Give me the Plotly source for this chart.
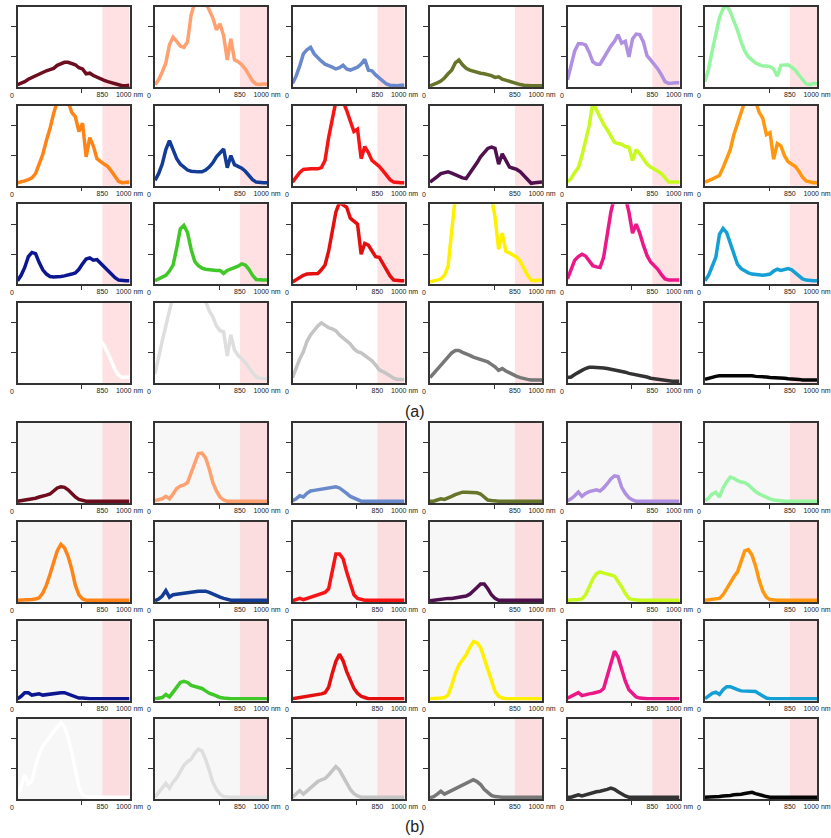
import plotly.graph_objects as go

# ---------------- data ----------------
WAVELENGTH = list(range(380, 1001, 20))  # nm, 32 samples
NIR_START, NIR_END = 850, 1000
X_TICK_LABELS = ["850", "1000 nm"]
X_TICK_VALUES = [850, 1000]

PATCH_NAMES = ["dark skin", "light skin", "blue sky", "foliage", "blue flower", "bluish green",
               "orange", "purplish blue", "moderate red", "purple", "yellow green", "orange yellow",
               "blue", "green", "red", "yellow", "magenta", "cyan",
               "white", "neutral 8", "neutral 6.5", "neutral 5", "neutral 3.5", "black"]

PATCH_COLORS = ["#6e0d1e", "#ffa070", "#6a88cc", "#67752a", "#b090e0", "#96f5a0",
                "#ff8418", "#123c96", "#f81414", "#501050", "#c8fa20", "#ff9810",
                "#0c1690", "#40c828", "#e41010", "#fff000", "#ec1888", "#14a0d4",
                "#ffffff", "#dedede", "#c4c4c4", "#777777", "#333333", "#050505"]

# (a) measured curves
a_dark_skin = [0.04, 0.06, 0.09, 0.13, 0.16, 0.19, 0.22, 0.25,
               0.27, 0.29, 0.31, 0.36, 0.39, 0.41, 0.41, 0.39,
               0.37, 0.32, 0.30, 0.22, 0.23, 0.19, 0.16, 0.13,
               0.11, 0.09, 0.07, 0.05, 0.03, 0.02, 0.02, 0.03]
a_light_skin = [0.04, 0.12, 0.25, 0.40, 0.70, 0.83, 0.76, 0.68,
                0.66, 0.75, 1.20, 1.40, 1.40, 1.40, 1.40, 1.28,
                1.15, 0.95, 1.05, 0.85, 0.45, 0.80, 0.45, 0.42,
                0.37, 0.30, 0.20, 0.10, 0.05, 0.04, 0.05, 0.05]
a_blue_sky = [0.06, 0.18, 0.35, 0.55, 0.62, 0.66, 0.55, 0.48,
              0.43, 0.38, 0.36, 0.33, 0.30, 0.32, 0.36, 0.30,
              0.28, 0.30, 0.33, 0.38, 0.46, 0.28, 0.27, 0.20,
              0.15, 0.10, 0.05, 0.03, 0.02, 0.02, 0.03, 0.03]
a_foliage = [0.02, 0.04, 0.07, 0.10, 0.15, 0.22, 0.28, 0.40,
             0.45, 0.37, 0.31, 0.28, 0.26, 0.25, 0.23, 0.22,
             0.21, 0.19, 0.16, 0.17, 0.13, 0.11, 0.09, 0.07,
             0.05, 0.04, 0.03, 0.02, 0.02, 0.02, 0.02, 0.02]
a_blue_flower = [0.12, 0.35, 0.60, 0.72, 0.72, 0.70, 0.58, 0.42,
                 0.38, 0.38, 0.48, 0.60, 0.68, 0.76, 0.87, 0.73,
                 0.76, 0.50, 0.80, 0.88, 0.87, 0.75, 0.52, 0.45,
                 0.38, 0.30, 0.20, 0.09, 0.06, 0.07, 0.07, 0.07]
a_bluish_green = [0.09, 0.30, 0.60, 0.90, 1.15, 1.30, 1.36, 1.25,
                  1.10, 0.94, 0.75, 0.60, 0.50, 0.44, 0.40, 0.37,
                  0.35, 0.35, 0.34, 0.30, 0.18, 0.36, 0.36, 0.37,
                  0.33, 0.28, 0.20, 0.12, 0.05, 0.04, 0.06, 0.06]
a_orange = [0.05, 0.06, 0.08, 0.10, 0.13, 0.20, 0.35, 0.52,
            0.75, 0.95, 1.20, 1.40, 1.40, 1.40, 1.40, 1.22,
            1.15, 0.90, 1.04, 0.48, 0.80, 0.66, 0.45, 0.40,
            0.36, 0.32, 0.24, 0.15, 0.07, 0.05, 0.06, 0.06]
a_purplish_blue = [0.09, 0.20, 0.36, 0.60, 0.75, 0.60, 0.45, 0.36,
                   0.30, 0.26, 0.24, 0.23, 0.23, 0.23, 0.26, 0.31,
                   0.38, 0.48, 0.55, 0.61, 0.30, 0.50, 0.35, 0.32,
                   0.29, 0.24, 0.17, 0.10, 0.06, 0.05, 0.05, 0.05]
a_moderate_red = [0.06, 0.15, 0.22, 0.27, 0.28, 0.28, 0.28, 0.28,
                  0.30, 0.42, 0.80, 1.15, 1.40, 1.40, 1.40, 1.25,
                  1.08, 0.90, 0.94, 0.45, 0.65, 0.55, 0.42, 0.37,
                  0.32, 0.25, 0.17, 0.10, 0.06, 0.05, 0.05, 0.05]
a_purple = [0.06, 0.10, 0.15, 0.20, 0.22, 0.23, 0.21, 0.18,
            0.15, 0.13, 0.12, 0.20, 0.28, 0.38, 0.48, 0.56,
            0.62, 0.64, 0.62, 0.36, 0.53, 0.42, 0.31, 0.29,
            0.27, 0.23, 0.17, 0.09, 0.04, 0.05, 0.06, 0.06]
a_yellow_green = [0.06, 0.12, 0.22, 0.30, 0.50, 0.75, 1.00, 1.38,
                  1.25, 1.15, 1.02, 0.93, 0.82, 0.72, 0.70, 0.69,
                  0.65, 0.64, 0.42, 0.60, 0.53, 0.45, 0.36, 0.31,
                  0.28, 0.24, 0.20, 0.12, 0.06, 0.06, 0.06, 0.06]
a_orange_yellow = [0.06, 0.08, 0.11, 0.14, 0.17, 0.30, 0.45, 0.60,
                   0.85, 1.05, 1.26, 1.40, 1.40, 1.40, 1.40, 1.22,
                   1.12, 0.85, 0.88, 0.44, 0.70, 0.66, 0.50, 0.40,
                   0.36, 0.32, 0.24, 0.14, 0.08, 0.06, 0.05, 0.05]
a_blue = [0.06, 0.15, 0.28, 0.46, 0.53, 0.51, 0.36, 0.24,
          0.17, 0.13, 0.12, 0.12, 0.13, 0.14, 0.15, 0.17,
          0.19, 0.25, 0.34, 0.42, 0.44, 0.40, 0.41, 0.35,
          0.28, 0.22, 0.16, 0.11, 0.07, 0.06, 0.06, 0.06]
a_green = [0.06, 0.09, 0.12, 0.15, 0.22, 0.32, 0.60, 0.92,
           0.98, 0.86, 0.58, 0.38, 0.31, 0.27, 0.25, 0.24,
           0.24, 0.23, 0.23, 0.18, 0.23, 0.25, 0.27, 0.30,
           0.34, 0.32, 0.25, 0.15, 0.08, 0.07, 0.07, 0.07]
a_red = [0.04, 0.08, 0.12, 0.15, 0.17, 0.17, 0.17, 0.18,
         0.24, 0.32, 0.55, 0.85, 1.20, 1.36, 1.32, 1.28,
         1.10, 1.05, 1.00, 0.50, 0.68, 0.65, 0.55, 0.46,
         0.45, 0.35, 0.25, 0.14, 0.07, 0.06, 0.06, 0.06]
a_yellow = [0.04, 0.05, 0.07, 0.09, 0.15, 0.30, 0.90, 1.45,
            1.45, 1.45, 1.45, 1.45, 1.45, 1.45, 1.45, 1.45,
            1.45, 1.45, 1.12, 0.58, 0.85, 0.55, 0.52, 0.49,
            0.45, 0.38, 0.26, 0.15, 0.07, 0.06, 0.07, 0.07]
a_magenta = [0.09, 0.25, 0.40, 0.46, 0.50, 0.47, 0.38, 0.31,
             0.29, 0.28, 0.45, 0.85, 1.20, 1.45, 1.45, 1.45,
             1.45, 1.20, 0.85, 1.00, 0.85, 0.65, 0.48, 0.37,
             0.31, 0.25, 0.16, 0.09, 0.07, 0.07, 0.07, 0.07]
a_cyan = [0.06, 0.15, 0.30, 0.45, 0.83, 0.93, 0.86, 0.68,
          0.48, 0.33, 0.26, 0.22, 0.19, 0.17, 0.16, 0.15,
          0.15, 0.16, 0.17, 0.22, 0.25, 0.23, 0.24, 0.26,
          0.24, 0.19, 0.14, 0.09, 0.07, 0.06, 0.06, 0.06]
a_white = [0.30, 0.90, 1.40, 1.45, 1.45, 1.45, 1.45, 1.45,
           1.45, 1.45, 1.45, 1.45, 1.45, 1.45, 1.45, 1.45,
           1.40, 1.30, 1.20, 1.10, 0.95, 0.88, 0.80, 0.70,
           0.62, 0.50, 0.35, 0.22, 0.13, 0.09, 0.10, 0.10]
a_neutral_8 = [0.15, 0.45, 0.70, 0.95, 1.25, 1.45, 1.45, 1.45,
               1.45, 1.45, 1.45, 1.45, 1.45, 1.45, 1.36, 1.20,
               1.10, 0.95, 0.87, 0.85, 0.45, 0.80, 0.55, 0.46,
               0.40, 0.34, 0.25, 0.17, 0.10, 0.08, 0.07, 0.07]
a_neutral_65 = [0.09, 0.25, 0.40, 0.52, 0.69, 0.80, 0.88, 0.95,
                1.00, 0.96, 0.92, 0.90, 0.87, 0.80, 0.75, 0.70,
                0.65, 0.57, 0.52, 0.50, 0.46, 0.42, 0.37, 0.30,
                0.22, 0.19, 0.16, 0.12, 0.08, 0.06, 0.06, 0.06]
a_neutral_5 = [0.09, 0.16, 0.24, 0.31, 0.37, 0.44, 0.50, 0.54,
               0.54, 0.51, 0.49, 0.46, 0.43, 0.41, 0.39, 0.37,
               0.35, 0.31, 0.27, 0.21, 0.24, 0.20, 0.17, 0.13,
               0.11, 0.09, 0.07, 0.06, 0.05, 0.05, 0.05, 0.05]
a_neutral_35 = [0.09, 0.10, 0.14, 0.18, 0.21, 0.24, 0.26, 0.26,
                0.26, 0.26, 0.25, 0.24, 0.23, 0.22, 0.21, 0.19,
                0.18, 0.16, 0.15, 0.14, 0.13, 0.12, 0.10, 0.08,
                0.07, 0.06, 0.05, 0.04, 0.04, 0.03, 0.03, 0.03]
a_black = [0.06, 0.08, 0.10, 0.11, 0.12, 0.12, 0.13, 0.13,
           0.13, 0.13, 0.13, 0.12, 0.12, 0.12, 0.11, 0.11,
           0.10, 0.10, 0.09, 0.09, 0.08, 0.08, 0.08, 0.07,
           0.07, 0.06, 0.06, 0.05, 0.05, 0.05, 0.05, 0.05]

# (b) curves
b_dark_skin = [0.03, 0.04, 0.05, 0.05, 0.06, 0.08, 0.10, 0.11,
               0.13, 0.15, 0.20, 0.25, 0.27, 0.26, 0.22, 0.15,
               0.10, 0.06, 0.04, 0.03, 0.03, 0.03, 0.03, 0.03,
               0.03, 0.03, 0.03, 0.03, 0.03, 0.03, 0.03, 0.03]
b_light_skin = [0.04, 0.05, 0.07, 0.11, 0.07, 0.15, 0.24, 0.28,
                0.30, 0.34, 0.50, 0.70, 0.82, 0.83, 0.75, 0.57,
                0.34, 0.20, 0.10, 0.05, 0.03, 0.03, 0.03, 0.03,
                0.03, 0.03, 0.03, 0.03, 0.03, 0.03, 0.03, 0.03]
b_blue_sky = [0.04, 0.07, 0.12, 0.10, 0.16, 0.20, 0.21, 0.22,
              0.22, 0.23, 0.25, 0.26, 0.27, 0.25, 0.21, 0.16,
              0.11, 0.08, 0.05, 0.03, 0.03, 0.03, 0.03, 0.03,
              0.03, 0.03, 0.03, 0.03, 0.03, 0.03, 0.03, 0.03]
b_foliage = [0.03, 0.03, 0.05, 0.07, 0.06, 0.08, 0.11, 0.14,
             0.16, 0.18, 0.18, 0.18, 0.18, 0.17, 0.15, 0.09,
             0.05, 0.04, 0.03, 0.03, 0.03, 0.03, 0.03, 0.03,
             0.03, 0.03, 0.03, 0.03, 0.03, 0.03, 0.03, 0.03]
b_blue_flower = [0.04, 0.07, 0.12, 0.18, 0.11, 0.16, 0.19, 0.21,
                 0.22, 0.20, 0.25, 0.32, 0.40, 0.45, 0.44, 0.26,
                 0.16, 0.09, 0.05, 0.03, 0.03, 0.03, 0.03, 0.03,
                 0.03, 0.03, 0.03, 0.03, 0.03, 0.03, 0.03, 0.03]
b_bluish_green = [0.04, 0.08, 0.15, 0.18, 0.10, 0.25, 0.35, 0.43,
                  0.41, 0.37, 0.35, 0.34, 0.30, 0.24, 0.19, 0.15,
                  0.12, 0.09, 0.07, 0.05, 0.04, 0.03, 0.03, 0.03,
                  0.03, 0.03, 0.03, 0.03, 0.03, 0.03, 0.03, 0.03]
b_orange = [0.03, 0.03, 0.04, 0.04, 0.04, 0.05, 0.07, 0.15,
            0.28, 0.46, 0.68, 0.85, 0.96, 0.90, 0.76, 0.55,
            0.28, 0.12, 0.05, 0.03, 0.03, 0.03, 0.03, 0.03,
            0.03, 0.03, 0.03, 0.03, 0.03, 0.03, 0.03, 0.03]
b_purplish_blue = [0.02, 0.05, 0.10, 0.19, 0.08, 0.12, 0.13, 0.14,
                   0.14, 0.15, 0.16, 0.17, 0.18, 0.18, 0.18, 0.16,
                   0.13, 0.10, 0.08, 0.06, 0.04, 0.03, 0.03, 0.03,
                   0.03, 0.03, 0.03, 0.03, 0.03, 0.03, 0.03, 0.03]
b_moderate_red = [0.02, 0.04, 0.06, 0.04, 0.06, 0.08, 0.10, 0.12,
                  0.14, 0.16, 0.22, 0.50, 0.80, 0.80, 0.72, 0.50,
                  0.30, 0.12, 0.06, 0.04, 0.03, 0.03, 0.03, 0.03,
                  0.03, 0.03, 0.03, 0.03, 0.03, 0.03, 0.03, 0.03]
b_purple = [0.02, 0.03, 0.04, 0.04, 0.05, 0.06, 0.06, 0.07,
            0.07, 0.08, 0.10, 0.13, 0.18, 0.24, 0.30, 0.30,
            0.22, 0.12, 0.06, 0.03, 0.03, 0.03, 0.03, 0.03,
            0.03, 0.03, 0.03, 0.03, 0.03, 0.03, 0.03, 0.03]
b_yellow_green = [0.03, 0.03, 0.04, 0.04, 0.05, 0.12, 0.25, 0.38,
                  0.47, 0.50, 0.48, 0.47, 0.45, 0.43, 0.35, 0.25,
                  0.14, 0.06, 0.04, 0.03, 0.03, 0.03, 0.03, 0.03,
                  0.03, 0.03, 0.03, 0.03, 0.03, 0.03, 0.03, 0.03]
b_orange_yellow = [0.03, 0.04, 0.04, 0.05, 0.06, 0.12, 0.22, 0.33,
                   0.42, 0.50, 0.67, 0.85, 0.87, 0.78, 0.60, 0.36,
                   0.18, 0.08, 0.04, 0.03, 0.03, 0.03, 0.03, 0.03,
                   0.03, 0.03, 0.03, 0.03, 0.03, 0.03, 0.03, 0.03]
b_blue = [0.03, 0.07, 0.13, 0.13, 0.09, 0.10, 0.11, 0.09,
          0.10, 0.11, 0.12, 0.13, 0.13, 0.13, 0.11, 0.08,
          0.06, 0.04, 0.04, 0.03, 0.03, 0.03, 0.03, 0.03,
          0.03, 0.03, 0.03, 0.03, 0.03, 0.03, 0.03, 0.03]
b_green = [0.03, 0.04, 0.05, 0.10, 0.06, 0.14, 0.22, 0.30,
           0.32, 0.30, 0.25, 0.23, 0.22, 0.20, 0.16, 0.12,
           0.10, 0.07, 0.05, 0.04, 0.03, 0.03, 0.03, 0.03,
           0.03, 0.03, 0.03, 0.03, 0.03, 0.03, 0.03, 0.03]
b_red = [0.03, 0.04, 0.05, 0.05, 0.06, 0.07, 0.08, 0.10,
         0.11, 0.13, 0.22, 0.45, 0.65, 0.77, 0.66, 0.48,
         0.33, 0.20, 0.12, 0.07, 0.05, 0.03, 0.03, 0.03,
         0.03, 0.03, 0.03, 0.03, 0.03, 0.03, 0.03, 0.03]
b_yellow = [0.03, 0.03, 0.04, 0.04, 0.05, 0.09, 0.25, 0.45,
            0.59, 0.68, 0.76, 0.88, 0.98, 0.96, 0.88, 0.70,
            0.50, 0.30, 0.15, 0.07, 0.04, 0.03, 0.03, 0.03,
            0.03, 0.03, 0.03, 0.03, 0.03, 0.03, 0.03, 0.03]
b_magenta = [0.04, 0.07, 0.10, 0.13, 0.08, 0.10, 0.11, 0.12,
             0.13, 0.15, 0.20, 0.40, 0.65, 0.82, 0.72, 0.50,
             0.32, 0.18, 0.11, 0.06, 0.04, 0.03, 0.03, 0.03,
             0.03, 0.03, 0.03, 0.03, 0.03, 0.03, 0.03, 0.03]
b_cyan = [0.03, 0.07, 0.12, 0.14, 0.10, 0.18, 0.23, 0.23,
          0.20, 0.18, 0.16, 0.16, 0.16, 0.16, 0.15, 0.11,
          0.07, 0.04, 0.03, 0.03, 0.03, 0.03, 0.03, 0.03,
          0.03, 0.03, 0.03, 0.03, 0.03, 0.03, 0.03, 0.03]
b_white = [0.03, 0.20, 0.40, 0.25, 0.30, 0.55, 0.75, 0.88,
           0.97, 1.04, 1.12, 1.20, 1.27, 1.20, 1.02, 0.78,
           0.45, 0.20, 0.07, 0.04, 0.03, 0.03, 0.03, 0.03,
           0.03, 0.03, 0.03, 0.03, 0.03, 0.03, 0.03, 0.03]
b_neutral_8 = [0.03, 0.10, 0.18, 0.26, 0.18, 0.28, 0.35, 0.46,
               0.56, 0.62, 0.66, 0.76, 0.83, 0.80, 0.66, 0.48,
               0.28, 0.16, 0.08, 0.04, 0.03, 0.03, 0.03, 0.03,
               0.03, 0.03, 0.03, 0.03, 0.03, 0.03, 0.03, 0.03]
b_neutral_65 = [0.03, 0.08, 0.14, 0.08, 0.13, 0.18, 0.24, 0.29,
                0.32, 0.34, 0.40, 0.47, 0.54, 0.48, 0.38, 0.28,
                0.16, 0.09, 0.05, 0.03, 0.03, 0.03, 0.03, 0.03,
                0.03, 0.03, 0.03, 0.03, 0.03, 0.03, 0.03, 0.03]
b_neutral_5 = [0.02, 0.04, 0.08, 0.13, 0.08, 0.11, 0.15, 0.18,
               0.21, 0.23, 0.26, 0.29, 0.32, 0.29, 0.24, 0.16,
               0.10, 0.06, 0.04, 0.03, 0.03, 0.03, 0.03, 0.03,
               0.03, 0.03, 0.03, 0.03, 0.03, 0.03, 0.03, 0.03]
b_neutral_35 = [0.03, 0.03, 0.05, 0.07, 0.05, 0.07, 0.09, 0.10,
                0.12, 0.13, 0.14, 0.16, 0.18, 0.16, 0.12, 0.08,
                0.05, 0.03, 0.03, 0.03, 0.03, 0.03, 0.03, 0.03,
                0.03, 0.03, 0.03, 0.03, 0.03, 0.03, 0.03, 0.03]
b_black = [0.03, 0.03, 0.04, 0.04, 0.04, 0.05, 0.05, 0.06,
           0.07, 0.07, 0.08, 0.09, 0.10, 0.11, 0.09, 0.07,
           0.05, 0.04, 0.03, 0.03, 0.03, 0.03, 0.03, 0.03,
           0.03, 0.03, 0.03, 0.03, 0.03, 0.03, 0.03, 0.03]

CURVES_A = [a_dark_skin, a_light_skin, a_blue_sky, a_foliage, a_blue_flower, a_bluish_green,
            a_orange, a_purplish_blue, a_moderate_red, a_purple, a_yellow_green, a_orange_yellow,
            a_blue, a_green, a_red, a_yellow, a_magenta, a_cyan,
            a_white, a_neutral_8, a_neutral_65, a_neutral_5, a_neutral_35, a_black]
CURVES_B = [b_dark_skin, b_light_skin, b_blue_sky, b_foliage, b_blue_flower, b_bluish_green,
            b_orange, b_purplish_blue, b_moderate_red, b_purple, b_yellow_green, b_orange_yellow,
            b_blue, b_green, b_red, b_yellow, b_magenta, b_cyan,
            b_white, b_neutral_8, b_neutral_65, b_neutral_5, b_neutral_35, b_black]

# ---------------- layout ----------------
W, H = 831, 838
COL_LEFT = [17.5 + 137.5 * c for c in range(6)]
PANEL_W = 112
ROW_TOP = [7, 105.7, 204.3, 303, 423, 522, 620.5, 719]
PANEL_H = 80
TXT = "#222"

fig = go.Figure()
layout = dict(template="none", width=W, height=H, margin=dict(l=0, r=0, t=0, b=0, pad=0),
              autosize=False,
              paper_bgcolor="white", plot_bgcolor="white", showlegend=False,
              font=dict(family="Liberation Sans, Arial, sans-serif", color=TXT))
shapes, annotations = [], []

k = 0
for group, curves in enumerate([CURVES_A, CURVES_B]):
    for i in range(24):
        r = group * 4 + i // 6
        c = i % 6
        k += 1
        xa = "x" if k == 1 else f"x{k}"
        ya = "y" if k == 1 else f"y{k}"
        xkey = "xaxis" if k == 1 else f"xaxis{k}"
        ykey = "yaxis" if k == 1 else f"yaxis{k}"
        x0 = COL_LEFT[c] / W
        x1 = (COL_LEFT[c] + PANEL_W) / W
        y1 = 1 - ROW_TOP[r] / H
        y0 = 1 - (ROW_TOP[r] + PANEL_H) / H
        layout[xkey] = dict(domain=[x0, x1], range=[380, 1000], anchor=ya,
                            showgrid=False, zeroline=False, showline=True, mirror=True,
                            linecolor="#333", linewidth=1.5,
                            tickmode="array", tickvals=X_TICK_VALUES, ticktext=X_TICK_LABELS,
                            ticks="", tickfont=dict(size=7, color=TXT),
                            minor=dict(tickmode="array", tickvals=[735], ticks="outside",
                                       ticklen=4, tickwidth=1, tickcolor="#333", showgrid=False))
        layout[ykey] = dict(domain=[y0, y1], range=[0, 1.33], anchor=xa,
                            showgrid=False, zeroline=False, showline=True, mirror=True,
                            linecolor="#333", linewidth=1.5,
                            tickmode="array", tickvals=[0.5, 1.0], ticks="outside",
                            ticklen=5, tickwidth=1, tickcolor="#333", showticklabels=False)
        dom_x = f"{xa} domain"
        dom_y = f"{ya} domain"
        if group == 1:
            shapes.append(dict(type="rect", xref=dom_x, yref=dom_y, x0=0, x1=1, y0=0, y1=1,
                               fillcolor="#f7f7f7", line=dict(width=0), layer="below"))
        shapes.append(dict(type="rect", xref=xa, yref=dom_y, x0=NIR_START, x1=NIR_END,
                           y0=0, y1=1, fillcolor="rgba(255,195,200,0.5)",
                           line=dict(width=0), layer="below"))
        annotations.append(dict(text="0", xref=dom_x, yref=dom_y, x=0, y=0,
                                xshift=-6, yshift=-3, xanchor="center", yanchor="top",
                                showarrow=False, font=dict(size=7, color=TXT)))
        fig.add_trace(go.Scatter(x=WAVELENGTH, y=curves[i], mode="lines",
                                 name=PATCH_NAMES[i], xaxis=xa, yaxis=ya,
                                 line=dict(color=PATCH_COLORS[i], width=3.5)))

annotations.append(dict(text="(a)", xref="paper", yref="paper", x=415 / W, y=1 - 411 / H,
                        xanchor="center", yanchor="middle",
                        showarrow=False, font=dict(size=16, color=TXT)))
annotations.append(dict(text="(b)", xref="paper", yref="paper", x=415 / W, y=1 - 826 / H,
                        xanchor="center", yanchor="middle",
                        showarrow=False, font=dict(size=16, color=TXT)))
layout["shapes"] = shapes
layout["annotations"] = annotations
fig.update_layout(**layout)
fig.write_html("out.html", config={"displayModeBar": False},
               post_script="document.body.style.margin='0';document.body.style.overflow='hidden';")
